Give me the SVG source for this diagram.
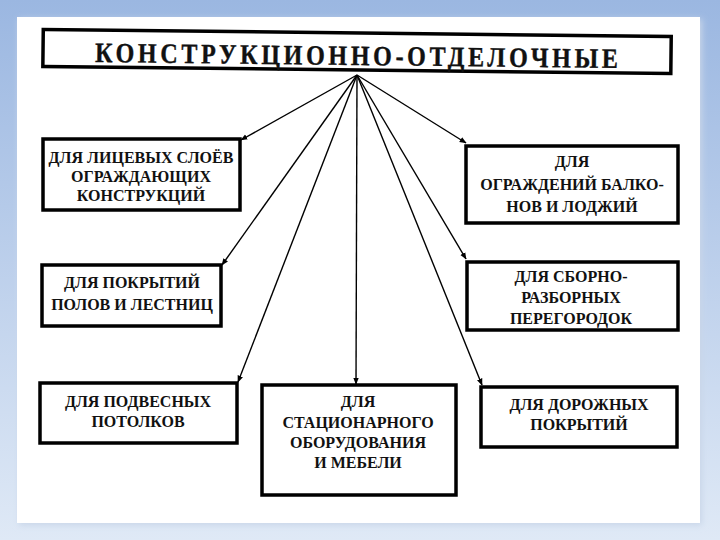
<svg xmlns="http://www.w3.org/2000/svg" width="720" height="540" viewBox="0 0 720 540">
<defs>
<linearGradient id="bg" x1="0" y1="0" x2="0" y2="1">
<stop offset="0" stop-color="#9bb7e1"/>
<stop offset="1" stop-color="#dfe9f6"/>
</linearGradient>
<filter id="soft" x="-5%" y="-5%" width="110%" height="110%">
<feGaussianBlur stdDeviation="3"/>
</filter>
<marker id="ah" viewBox="0 0 10 10" refX="9" refY="5" markerWidth="7" markerHeight="7" markerUnits="userSpaceOnUse" orient="auto">
<path d="M0,1 L10,5 L0,9 Z" fill="#000"/>
</marker>
<style>
.box{fill:#fff;stroke:#000;stroke-width:3.5}
.t{font-weight:bold;font-size:16px;fill:#111;text-anchor:middle}
.ttl{font-weight:bold;font-size:28px;fill:#111;stroke:#111;stroke-width:0.4}
.c{stroke:#000;stroke-width:1.4;fill:none;marker-end:url(#ah)}
</style>
</defs>
<rect width="720" height="540" fill="url(#bg)"/>
<rect x="19" y="19" width="683" height="506" fill="#c9d6e8" filter="url(#soft)"/>
<rect x="17" y="17" width="683" height="506" fill="#fff"/>

<g id="title" transform="rotate(0.65 357 55)">
<rect class="box" x="43" y="33" width="628" height="37"/>
<text class="ttl" font-family="Liberation Serif, Times New Roman, serif" transform="translate(95 65) scale(0.86 1)" x="0" y="0" textLength="608" lengthAdjust="spacing">КОНСТРУКЦИОННО-ОТДЕЛОЧНЫЕ</text>
</g>

<g id="connectors">
<line class="c" x1="357" y1="75" x2="241" y2="140"/>
<line class="c" x1="357" y1="75" x2="222" y2="265"/>
<line class="c" x1="357" y1="75" x2="238" y2="382"/>
<line class="c" x1="357" y1="75" x2="356" y2="384"/>
<line class="c" x1="357" y1="75" x2="466" y2="143"/>
<line class="c" x1="357" y1="75" x2="466" y2="259"/>
<line class="c" x1="357" y1="75" x2="482" y2="385"/>
</g>

<g font-family="Liberation Serif, Times New Roman, serif">
<g id="n1">
<rect class="box" x="43" y="139" width="197" height="71"/>
<text class="t" x="141" y="163">ДЛЯ ЛИЦЕВЫХ СЛОЁВ</text>
<text class="t" x="141" y="182">ОГРАЖДАЮЩИХ</text>
<text class="t" x="141" y="201">КОНСТРУКЦИЙ</text>
</g>

<g id="n2">
<rect class="box" x="42" y="265" width="179" height="61"/>
<text class="t" x="132" y="288">ДЛЯ ПОКРЫТИЙ</text>
<text class="t" x="132" y="310">ПОЛОВ И ЛЕСТНИЦ</text>
</g>

<g id="n3">
<rect class="box" x="40" y="383" width="197" height="60"/>
<text class="t" x="138" y="407">ДЛЯ ПОДВЕСНЫХ</text>
<text class="t" x="138" y="427">ПОТОЛКОВ</text>
</g>

<g id="n4">
<rect class="box" x="262" y="385" width="194" height="110"/>
<text class="t" x="358" y="407">ДЛЯ</text>
<text class="t" x="358" y="428">СТАЦИОНАРНОГО</text>
<text class="t" x="358" y="448">ОБОРУДОВАНИЯ</text>
<text class="t" x="358" y="468">И МЕБЕЛИ</text>
</g>

<g id="n5">
<rect class="box" x="466" y="146" width="212" height="77"/>
<text class="t" x="572" y="167">ДЛЯ</text>
<text class="t" x="572" y="190">ОГРАЖДЕНИЙ БАЛКО-</text>
<text class="t" x="572" y="212">НОВ И ЛОДЖИЙ</text>
</g>

<g id="n6">
<rect class="box" x="467" y="262" width="211" height="68"/>
<text class="t" x="571" y="282">ДЛЯ СБОРНО-</text>
<text class="t" x="571" y="303">РАЗБОРНЫХ</text>
<text class="t" x="571" y="324">ПЕРЕГОРОДОК</text>
</g>

<g id="n7">
<rect class="box" x="481" y="387" width="196" height="60"/>
<text class="t" x="579" y="410">ДЛЯ ДОРОЖНЫХ</text>
<text class="t" x="579" y="430">ПОКРЫТИЙ</text>
</g>
</g>
</svg>
